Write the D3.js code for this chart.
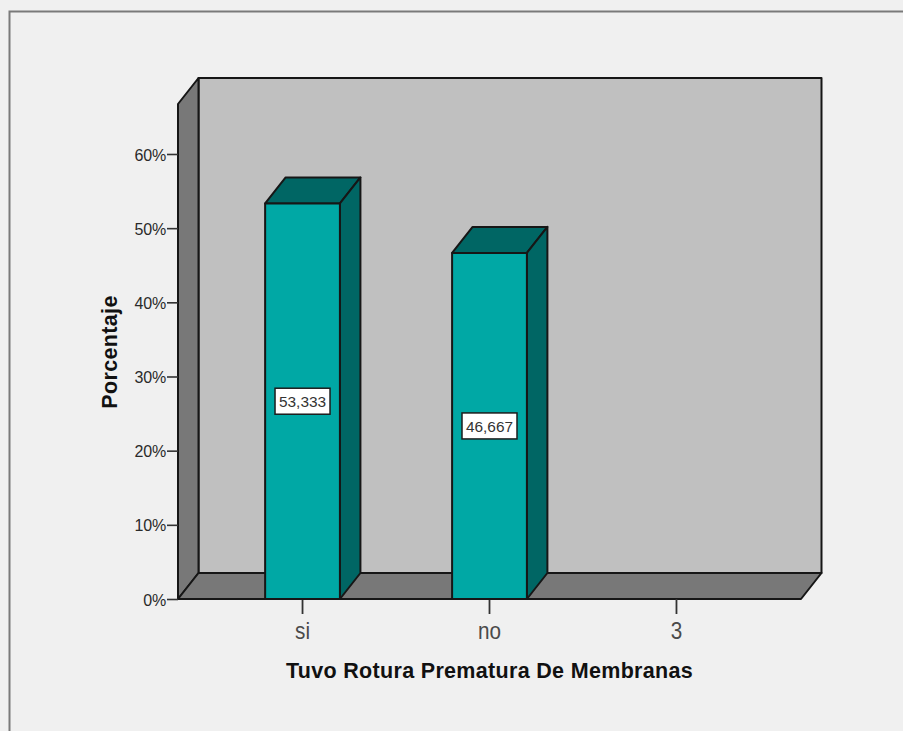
<!DOCTYPE html>
<html>
<head>
<meta charset="utf-8">
<script src="https://cdn.jsdelivr.net/npm/d3@7/dist/d3.min.js"></script>
<style>
html, body { margin: 0; padding: 0; background: #f0f0f0; overflow: hidden; }
svg { display: block; }
text { font-family: "Liberation Sans", Arial, sans-serif; }
</style>
</head>
<body>
<svg id="chart" width="903" height="731"></svg>
<script>
// Frequency of premature rupture of membranes, in percent
const categories = ["si", "no", "3"];
const percentages = [53.333, 46.667, null];
const valueLabels = ["53,333", "46,667", null];
const yTicks = [0, 10, 20, 30, 40, 50, 60];
const yTitle = "Porcentaje";
const xTitle = "Tuvo Rotura Prematura De Membranas";

const svg = d3.select("#chart");

// Outer window border: top and left edges only
svg.append("path")
  .attr("d", d3.line()([[9.5, 731], [9.5, 11.5], [903, 11.5]]))
  .attr("fill", "none").attr("stroke", "#7a7a7a").attr("stroke-width", 2);

// Front plane of the plot box and the oblique depth offset
const plot = { left: 178, right: 801, bottom: 599, top: 104 };
const depth = { dx: 20.5, dy: -26 };

const x = d3.scaleBand().domain(categories)
  .range([plot.left, plot.right])
  .paddingInner(0.6).paddingOuter(0.466);
const y = d3.scaleLinear().domain([0, 66.74]).range([plot.bottom, plot.top]);

const ink = "#161616";
const poly = (pts, fill) => svg.append("polygon")
  .attr("points", pts.map(p => p.join(",")).join(" "))
  .attr("fill", fill).attr("stroke", ink).attr("stroke-width", 2)
  .attr("stroke-linejoin", "round");

// Back wall, side wall, floor
poly([[plot.left + depth.dx, plot.top + depth.dy], [plot.right + depth.dx, plot.top + depth.dy],
      [plot.right + depth.dx, plot.bottom + depth.dy], [plot.left + depth.dx, plot.bottom + depth.dy]], "#c0c0c0");
poly([[plot.left, plot.top], [plot.left + depth.dx, plot.top + depth.dy],
      [plot.left + depth.dx, plot.bottom + depth.dy], [plot.left, plot.bottom]], "#787878");
poly([[plot.left, plot.bottom], [plot.left + depth.dx, plot.bottom + depth.dy],
      [plot.right + depth.dx, plot.bottom + depth.dy], [plot.right, plot.bottom]], "#787878");

// Y axis ticks and labels
const yAxis = svg.append("g").attr("transform", `translate(${plot.left},0)`)
  .call(d3.axisLeft(y).tickValues(yTicks).tickSize(11).tickPadding(1).tickFormat(d => d + "%"));
yAxis.select(".domain").remove();
yAxis.selectAll("line").attr("stroke", "#333").attr("stroke-width", 1.6);
yAxis.selectAll("text").attr("font-size", 16).attr("fill", "#2a2a2a")
  .attr("dy", "0.38em").style("letter-spacing", "-0.2px")
  .style("font-family", '"Liberation Sans", Arial, sans-serif');

// X axis ticks and labels, set tall and condensed
const xAxis = svg.append("g").attr("transform", `translate(0,${plot.bottom})`)
  .call(d3.axisBottom(x).tickSize(15).tickPadding(9));
xAxis.select(".domain").remove();
xAxis.selectAll("line").attr("stroke", "#333").attr("stroke-width", 1.8);
xAxis.selectAll("text").attr("font-size", 23).attr("fill", "#4a4a4a")
  .attr("transform", "scale(0.9,1)")
  .style("font-family", '"Liberation Sans", Arial, sans-serif');

// Bars drawn as oblique boxes: top, side, then front face
const data = categories.map((c, i) => ({ c, v: percentages[i], label: valueLabels[i] }))
  .filter(d => d.v !== null);
data.forEach(d => {
  const x0 = x(d.c), x1 = x0 + x.bandwidth(), yt = y(d.v), yb = y(0);
  poly([[x0, yt], [x0 + depth.dx, yt + depth.dy], [x1 + depth.dx, yt + depth.dy], [x1, yt]], "#006664");
  poly([[x1, yt], [x1 + depth.dx, yt + depth.dy], [x1 + depth.dx, yb + depth.dy], [x1, yb]], "#006664");
  poly([[x0, yt], [x1, yt], [x1, yb], [x0, yb]], "#00a8a5");

  // Value tag in the middle of the front face
  const cx = x0 + x.bandwidth() / 2, cy = y(d.v / 2);
  svg.append("rect")
    .attr("x", cx - 27.5).attr("y", cy - 13).attr("width", 55).attr("height", 26)
    .attr("fill", "#fff").attr("stroke", "#1c1c1c").attr("stroke-width", 1.5);
  svg.append("text")
    .attr("x", cx).attr("y", cy + 6).attr("text-anchor", "middle")
    .attr("font-size", 15.4).attr("fill", "#333").text(d.label);
});

// Axis titles
svg.append("text")
  .attr("transform", "translate(116.5,352) rotate(-90)")
  .attr("text-anchor", "middle").attr("font-size", 21.5).attr("font-weight", 700)
  .attr("letter-spacing", 0.35).attr("fill", "#111").text(yTitle);
svg.append("text")
  .attr("x", 489.5).attr("y", 678).attr("text-anchor", "middle")
  .attr("font-size", 21.5).attr("font-weight", 700)
  .attr("letter-spacing", 0.32).attr("fill", "#111").text(xTitle);
</script>
</body>
</html>
